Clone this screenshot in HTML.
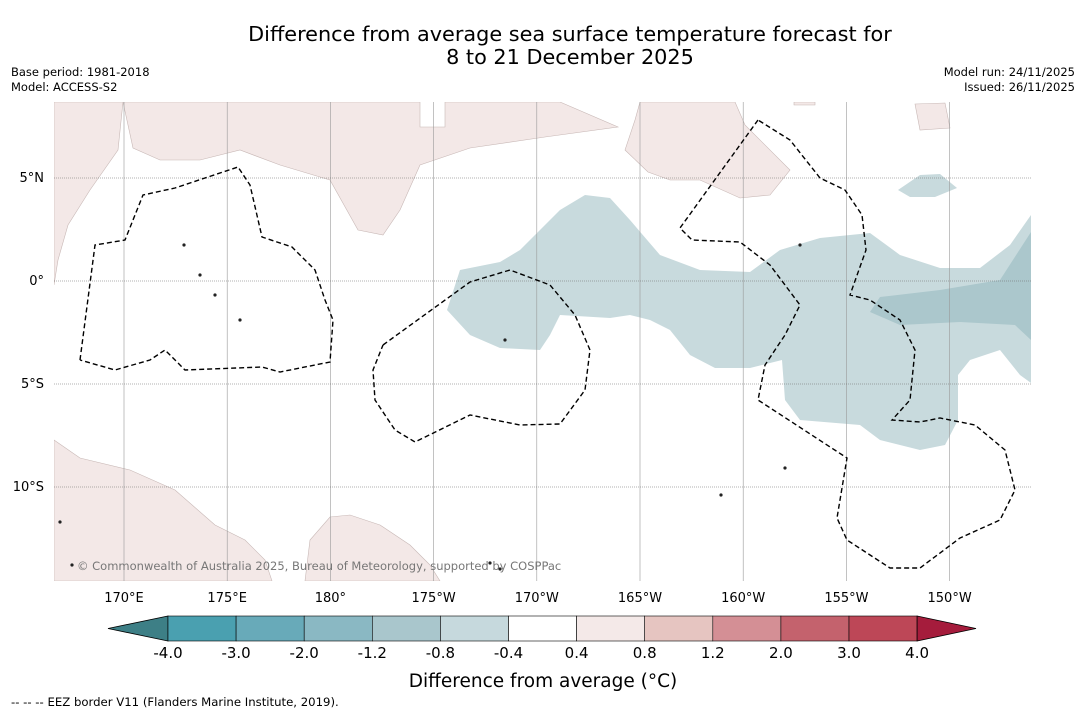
<!DOCTYPE html>
<html><head><meta charset="utf-8"><style>
body{margin:0;background:#fff;}
svg{display:block;font-family:"DejaVu Sans","Liberation Sans",sans-serif;}
</style></head><body>
<svg id="c" width="1085" height="713" viewBox="0 0 1085 713">
<rect width="1085" height="713" fill="#fff"/>
<text x="570" y="41" font-size="20.8" text-anchor="middle">Difference from average sea surface temperature forecast for</text>
<text x="570" y="64" font-size="20.8" text-anchor="middle">8 to 21 December 2025</text>
<text x="11" y="76" font-size="11.5">Base period: 1981-2018</text>
<text x="11" y="91" font-size="11.5">Model: ACCESS-S2</text>
<text x="1075" y="76" font-size="11.5" text-anchor="end">Model run: 24/11/2025</text>
<text x="1075" y="91" font-size="11.5" text-anchor="end">Issued: 26/11/2025</text>
<g id="map"></g>
<g id="cbar"></g>
<text x="543" y="687" font-size="18.5" text-anchor="middle">Difference from average (°C)</text>
<text x="11" y="706" font-size="11.7">--  --  -- EEZ border V11 (Flanders Marine Institute, 2019).</text>
</svg>
<script>
const lonTicks=[170,175,180,185,190,195,200,205,210];
const lonLabels=["170°E","175°E","180°","175°W","170°W","165°W","160°W","155°W","150°W"];
const latTicks=[5,0,-5,-10];
const latLabels=["5°N","0°","5°S","10°S"];
const levels=[-4.0,-3.0,-2.0,-1.2,-0.8,-0.4,0.4,0.8,1.2,2.0,3.0,4.0];
const levelColors=["#4aa0b0","#68aab9","#8ab8c3","#a9c6cc","#c6d9dd","#ffffff","#f4e9e8","#e6c5c1","#d48f95","#c4626d","#bd4757"];
const underColor="#3d7f86", overColor="#a51c3c";
const P=a=>a.map(([x,y])=>[170+(x-124)/20.64,(281-y)/20.6]);
const anomLight=P([[447,310],[460,270],[500,262],[520,250],[560,210],[585,195],[610,198],[630,220],[660,255],[700,270],[750,272],[780,250],[820,238],[870,233],[900,255],[940,268],[980,268],[1010,245],[1031,215],[1031,383],[1020,375],[1000,350],[970,360],[958,375],[958,420],[945,445],[920,450],[880,440],[860,425],[800,420],[785,400],[782,360],[750,368],[715,368],[690,355],[670,330],[650,320],[630,315],[610,318],[560,315],[550,335],[540,350],[500,348],[470,335]]);
const anomBlob=P([[898,190],[920,175],[940,174],[957,188],[935,197],[910,197]]);
const anomDark=P([[870,312],[880,297],[940,290],[1000,280],[1031,232],[1031,340],[1015,325],[960,322],[900,325]]);
const lands=[
P([[54,102],[420,102],[420,127],[445,127],[445,102],[560,102],[618,127],[545,137],[470,148],[420,165],[400,210],[383,235],[358,230],[330,180],[280,165],[240,150],[200,160],[160,160],[133,148],[123,102],[118,150],[90,190],[68,225],[58,260],[54,285]]),
P([[640,102],[735,102],[745,125],[790,170],[770,195],[740,198],[700,180],[670,180],[648,172],[625,150],[635,120]]),
P([[915,104],[945,103],[950,128],[920,130]]),
P([[794,102],[815,102],[815,105],[794,105]]),
P([[54,440],[80,458],[130,470],[175,490],[215,525],[245,540],[265,560],[272,581],[54,581]]),
P([[305,581],[310,540],[330,517],[350,515],[380,525],[410,545],[430,565],[440,581]])];
const eez=[
P([[80,360],[95,245],[125,240],[143,195],[175,188],[238,167],[250,185],[262,237],[292,247],[315,270],[325,300],[333,320],[330,362],[280,372],[262,367],[185,370],[165,350],[150,360],[115,370],[80,360]]),
P([[383,345],[470,282],[510,270],[550,285],[575,315],[590,350],[585,390],[560,424],[520,425],[470,415],[415,442],[395,430],[375,400],[373,370],[383,345]]),
P([[758,120],[680,228],[692,240],[740,242],[770,265],[800,305],[785,335],[765,365],[758,400],[847,458],[837,518],[847,540],[890,568],[920,568],[960,538],[1000,520],[1015,490],[1005,450],[975,425],[940,418],[920,422],[892,420],[910,400],[915,350],[900,320],[870,300],[850,295],[866,250],[862,215],[845,190],[820,178],[790,140],[758,120]])];
const islands=P([[505,340],[490,563],[500,569],[72,565],[60,522],[800,245],[785,468],[721,495],[184,245],[200,275],[215,295],[240,320]]);

const NS="http://www.w3.org/2000/svg";
const X=lon=>124+(lon-170)*20.64, Y=lat=>281-lat*20.6;
const L={x0:54,x1:1031,y0:102,y1:581};
function mk(t,a,p){const e=document.createElementNS(NS,t);for(const k in a)e.setAttribute(k,a[k]);p.appendChild(e);return e;}
const map=document.getElementById('map');
const defs=mk('defs',{},map);const cp=mk('clipPath',{id:'cp'},defs);mk('rect',{x:L.x0,y:L.y0,width:L.x1-L.x0,height:L.y1-L.y0},cp);
const g=mk('g',{'clip-path':'url(#cp)'},map);
const pts=a=>a.map(([lo,la])=>X(lo).toFixed(1)+','+Y(la).toFixed(1)).join(' ');
let e;
e=mk('polygon',{points:pts(anomLight),fill:'#c8dadd'},g);


e=mk('polygon',{points:pts(anomBlob),fill:'#c8dadd'},g);


e=mk('polygon',{points:pts(anomDark),fill:'#abc7cc'},g);


lands.forEach(l=>{e=mk('polygon',{points:pts(l),fill:'#f3e8e7',stroke:'#c8b8b6','stroke-width':0.6},g);

});
lonTicks.forEach((lo,i)=>{e=mk('line',{x1:X(lo),x2:X(lo),y1:L.y0,y2:L.y1,stroke:'#999','stroke-width':0.6},g);


e=mk('text',{x:X(lo),y:602,'font-size':13,'text-anchor':'middle'},map);e.textContent=lonLabels[i];

});
latTicks.forEach((la,i)=>{e=mk('line',{x1:L.x0,x2:L.x1,y1:Y(la),y2:Y(la),stroke:'#666','stroke-width':0.6,'stroke-dasharray':'1,1'},g);


e=mk('text',{x:44,y:Y(la)+4,'font-size':13,'text-anchor':'end'},map);e.textContent=latLabels[i];

});
eez.forEach(l=>{e=mk('polyline',{points:pts(l),fill:'none',stroke:'#000','stroke-width':1.4,'stroke-dasharray':'5,3'},g);

});
islands.forEach(([lo,la])=>{e=mk('circle',{cx:X(lo),cy:Y(la),r:1.6,fill:'#222'},g);

});
e=mk('text',{x:77,y:570,'font-size':11.5,fill:'#777'},g);e.textContent='© Commonwealth of Australia 2025, Bureau of Meteorology, supported by COSPPac';


const cb=document.getElementById('cbar');
const cx0=168,cw=68.1,cy=616,ch=25;
const CX=i=>cx0+i*cw;
e=mk('polygon',{points:`108,${cy+ch/2} ${cx0},${cy} ${cx0},${cy+ch}`,fill:underColor,stroke:'#000','stroke-width':0.8},cb);


levelColors.forEach((c,i)=>{e=mk('rect',{x:CX(i),y:cy,width:cw,height:ch,fill:c,stroke:'#000','stroke-width':0.6},cb);

});
const xe=CX(levelColors.length);
e=mk('polygon',{points:`${xe},${cy} 976,${cy+ch/2} ${xe},${cy+ch}`,fill:overColor,stroke:'#000','stroke-width':0.8},cb);


levels.forEach((v,i)=>{e=mk('text',{x:CX(i),y:658,'font-size':15,'text-anchor':'middle'},cb);e.textContent=v.toFixed(1);

});
</script>
</body></html>
